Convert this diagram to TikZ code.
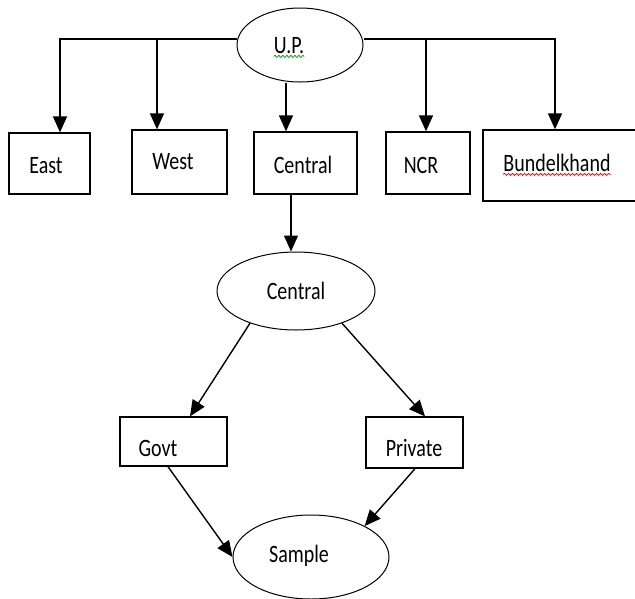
\documentclass[tikz,border=0pt]{standalone}
\usepackage{fontspec}
\setmainfont{Carlito}
\usetikzlibrary{arrows.meta,shapes.geometric,decorations.pathmorphing}

\newcommand{\tall}[1]{\scalebox{1}[1.25]{#1}}

\tikzset{box_style/.style={draw, rectangle, line width=1.3pt, inner sep=0pt}}
\tikzset{oval_style/.style={draw, ellipse, line width=1pt, inner sep=0pt}}
\tikzset{lbl_style/.style={font=\fontsize{20}{24}\selectfont, inner sep=0pt, anchor=base}}
\tikzset{arr_style/.style={line width=1.4pt, -{Triangle[length=16pt,width=14pt]}}}
\tikzset{squig_style/.style={decorate, decoration={snake, amplitude=1.1pt, segment length=4pt}, line width=0.7pt}}

\begin{document}
\begin{tikzpicture}[x=1pt, y=-1pt]
    \useasboundingbox (0,0) rectangle (635,598);

    % top level
    \node[oval_style, minimum width=126pt, minimum height=74pt] (up) at (300,45) {};
    \node[lbl_style] (up_t) at (289,53) {\tall{U.P.}};

    \node[box_style, minimum width=81pt, minimum height=61pt] (east) at (49.5,163.5) {};
    \node[box_style, minimum width=95pt, minimum height=64pt] (west) at (179.5,162) {};
    \node[box_style, minimum width=103pt, minimum height=62pt] (central) at (305.5,163) {};
    \node[box_style, minimum width=84pt, minimum height=62pt] (ncr) at (428,163) {};
    \node[box_style, minimum width=156pt, minimum height=71pt] (bund) at (561,165.5) {};

    \node[lbl_style] (east_t) at (46,173) {\tall{East}};
    \node[lbl_style] (west_t) at (173,169) {\tall{West}};
    \node[lbl_style] (central_t) at (303,173) {\tall{Central}};
    \node[lbl_style] (ncr_t) at (421,173) {\tall{NCR}};
    \node[lbl_style] (bund_t) at (557,171) {\tall{Bundelkhand}};

    % second level
    \node[oval_style, minimum width=158pt, minimum height=78pt] (central2) at (296,291) {};
    \node[lbl_style] (central2_t) at (296,299) {\tall{Central}};

    \node[box_style, minimum width=107pt, minimum height=49pt] (govt) at (173.5,441.5) {};
    \node[box_style, minimum width=97pt, minimum height=51pt] (private) at (414.5,442.5) {};
    \node[lbl_style] (govt_t) at (158,456) {\tall{Govt}};
    \node[lbl_style] (private_t) at (414,456) {\tall{Private}};

    \node[oval_style, minimum width=156pt, minimum height=84pt] (sample) at (311,557) {};
    \node[lbl_style] (sample_t) at (299,562) {\tall{Sample}};

    % spell check marks
    \draw[squig_style, green!60!black] ([yshift=-3pt]up_t.south west) -- ([yshift=-3pt]up_t.south east);
    \draw[squig_style, red] ([yshift=-3pt]bund_t.south west) -- ([yshift=-3pt]bund_t.south east);

    % connectors
    \coordinate (busL) at ([yshift=6pt]up.west);
    \coordinate (busR) at ([yshift=6pt]up.east);
    \coordinate (east_in) at ([xshift=10.5pt]east.north);
    \coordinate (west_in) at ([xshift=-22.5pt]west.north);
    \coordinate (cen_in) at ([xshift=-19.5pt]central.north);
    \coordinate (ncr_in) at ([xshift=-2pt]ncr.north);
    \coordinate (bund_in) at ([xshift=-6pt]bund.north);
    \coordinate (cen_out) at ([xshift=-14.5pt]central.south);
    \coordinate (govt_in) at ([xshift=16.5pt]govt.north);
    \coordinate (private_in) at ([xshift=10.5pt]private.north);
    \coordinate (govt_out) at ([xshift=-5.5pt]govt.south);
    \coordinate (private_out) at ([xshift=0.5pt]private.south);

    \draw[arr_style] (busL) -| (east_in);
    \draw[arr_style] (west_in |- busL) -- (west_in);
    \draw[arr_style] (cen_in |- up.south) -- (cen_in);
    \draw[arr_style] (ncr_in |- busR) -- (ncr_in);
    \draw[arr_style] (busR) -| (bund_in);

    \draw[arr_style] (cen_out) -- (cen_out |- central2.north);
    \draw[arr_style] (central2.215) -- (govt_in);
    \draw[arr_style] (central2.325) -- (private_in);
    \draw[arr_style] (govt_out) -- (sample.west);
    \draw[arr_style] (private_out) -- (sample.30);

\end{tikzpicture}
\end{document}
